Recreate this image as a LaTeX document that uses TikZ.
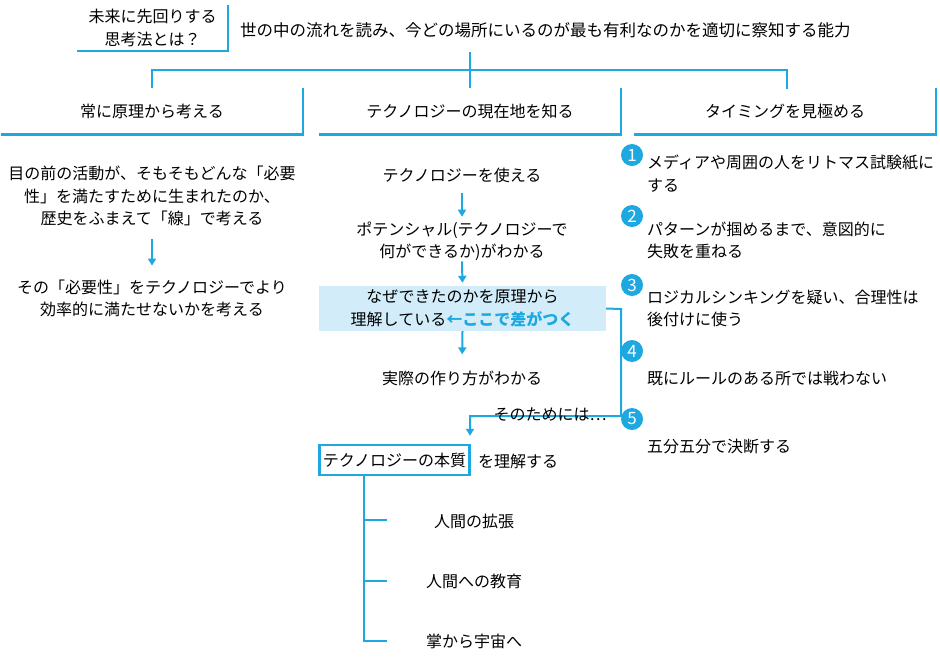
\documentclass[tikz,border=0pt]{standalone}
\usepackage{fontspec}
\setmainfont{Noto Sans CJK JP}
\usetikzlibrary{positioning,arrows.meta,calc}
\definecolor{mainblue}{RGB}{30,168,224}
\definecolor{paleblue}{RGB}{210,237,249}
\tikzstyle{txt}=[%
      inner sep=0pt, align=center, font=\fontsize{16}{22.5}\selectfont
]
\tikzstyle{ltxt}=[%
      txt, anchor=west, align=left
]
\tikzstyle{hdr}=[%
      txt, minimum width=302, minimum height=46
]
\tikzstyle{ln}=[%
      draw=mainblue, line width=2.5pt
]
\tikzstyle{arr}=[%
      ln, line width=2pt, -{Triangle[length=7pt,width=8pt]}, shorten <=10pt, shorten >=5pt
]
\tikzstyle{num}=[%
      circle, fill=mainblue, text=white, inner sep=0pt, minimum size=22,
      font=\fontsize{17}{17}\selectfont
]

\begin{document}
\begin{tikzpicture}[x=1pt,y=-1pt]
    \useasboundingbox (0,0) rectangle (940,665);

    % title
    \node[txt, minimum width=151, minimum height=46] (title) at (152.5,28) {未来に先回りする\\思考法とは？};
    \draw[ln] (title.north east) -- (title.south east) -- (title.south west);
    \node[txt, anchor=west, font=\fontsize{16.5}{22.5}\selectfont] (goal) at (240,30) {世の中の流れを読み、今どの場所にいるのが最も有利なのかを適切に察知する能力};

    % headers
    \node[hdr] (h1) at (152,111.5) {常に原理から考える};
    \node[hdr] (h2) at (470,111.5) {テクノロジーの現在地を知る};
    \node[hdr] (h3) at (785,111.5) {タイミングを見極める};
    \foreach \h in {h1,h2,h3}
      \draw[ln] (\h.north east) -- (\h.south east) -- (\h.south west);

    \coordinate (top) at (470,52);
    \coordinate (split) at (470,70);
    \draw[ln] (top) -- (split) -- (h2.north);
    \draw[ln] (h1.north) |- (split) -| (787,88.5);

    % left column
    \node[txt] (hist) at (152,196) {目の前の活動が、そもそもどんな「必要\\性」を満たすために生まれたのか、\\歴史をふまえて「線」で考える};
    \node[txt] (eff) at (152,298.5) {その「必要性」をテクノロジーでより\\効率的に満たせないかを考える};
    \draw[arr, shorten <=13pt, shorten >=14pt] (hist.south) -- (eff.north);

    % center column
    \node[txt] (use) at (462,175) {テクノロジーを使える};
    \node[txt] (pot) at (462,241.5) {ポテンシャル(テクノロジーで\\何ができるか)がわかる};
    \node[txt, fill=paleblue, minimum width=287, minimum height=45] (why) at (462.5,308.5)
      {なぜできたのかを原理から\\理解している\textcolor{mainblue}{\bfseries ←ここで差がつく}};
    \node[txt] (make) at (462,378) {実際の作り方がわかる};
    \draw[arr] (use.south) -- (pot.north);
    \draw[arr, shorten <=0pt, shorten >=3pt] (pot.south) -- (why.north);
    \draw[arr, shorten <=0pt, shorten >=16pt] (why.south) -- (make.north);

    \node[txt, draw=mainblue, line width=2.5pt, minimum width=150, minimum height=30] (ess) at (394.5,460) {テクノロジーの本質};
    \node[txt, anchor=west] (und) at (478,461) {を理解する};
    \coordinate (turn) at (621,309);
    \coordinate (back) at (621,416);
    \draw[arr, shorten <=0pt, shorten >=8pt] (why.east) -- (turn) -- (back) -| (ess.north -| 470,0);
    \node[txt, anchor=south] (for) at (550,422) {そのためには…};

    % essence
    \node[txt] (e1) at (474,521) {人間の拡張};
    \node[txt] (e2) at (474,581) {人間への教育};
    \node[txt] (e3) at (474,641) {掌から宇宙へ};
    \draw[ln] (ess.south -| 364,0) -- (364,641) -- (387,641);
    \foreach \y in {520,581}
      \draw[ln] (364,\y) -- (387,\y);

    % right column
    \foreach \n/\y in {1/155,2/216,3/285,4/351,5/419}
      \node[num] (c\n) at (632,\y) {\n};
    \node[ltxt] (t1) at (647,173.5) {メディアや周囲の人をリトマス試験紙に\\する};
    \node[ltxt] (t2) at (647,240.5) {パターンが掴めるまで、意図的に\\失敗を重ねる};
    \node[ltxt] (t3) at (647,308.5) {ロジカルシンキングを疑い、合理性は\\後付けに使う};
    \node[ltxt] (t4) at (647,378) {既にルールのある所では戦わない};
    \node[ltxt] (t5) at (647,446) {五分五分で決断する};
\end{tikzpicture}
\end{document}
